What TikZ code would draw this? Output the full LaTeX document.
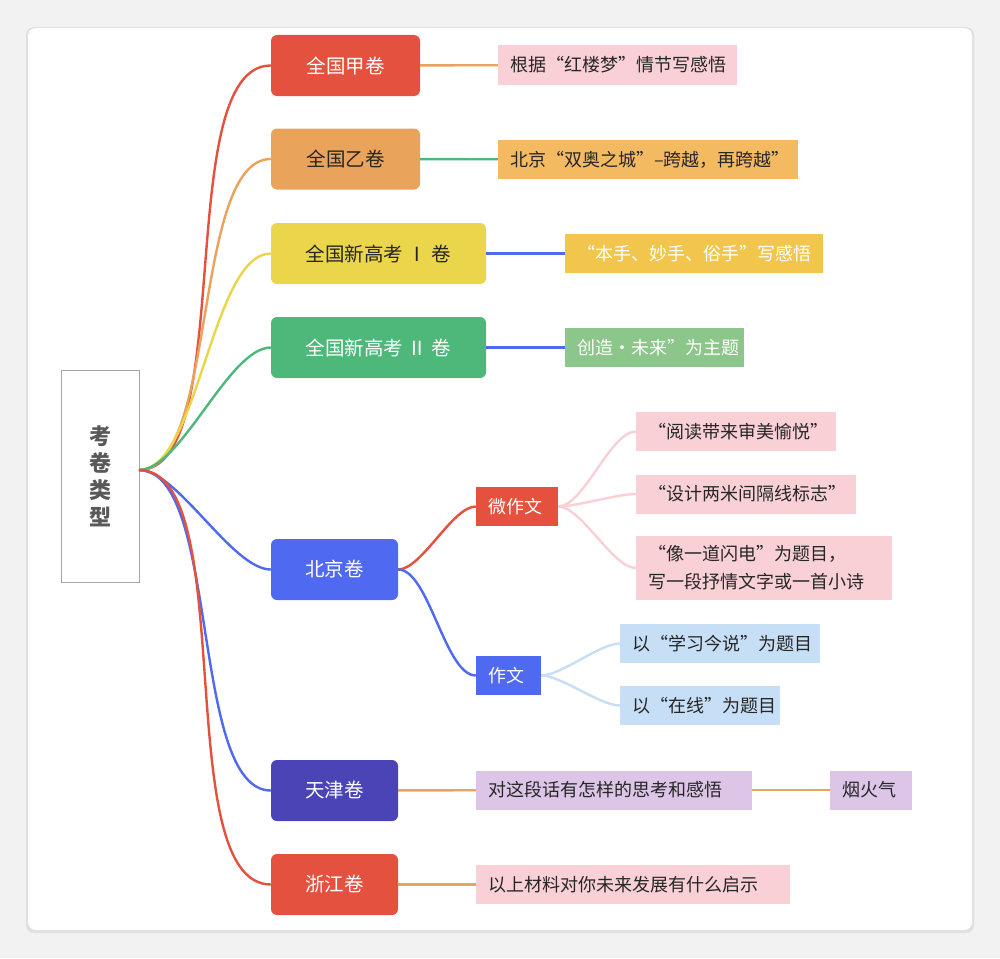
\documentclass[tikz,border=0pt]{standalone}
\usepackage{fontspec}
\setmainfont{Noto Sans CJK SC}
\usetikzlibrary{calc}
\definecolor{cred}{HTML}{E5513F}
\definecolor{corg}{HTML}{E9A35B}
\definecolor{cyel}{HTML}{EBD54A}
\definecolor{cgrn}{HTML}{4DB87A}
\definecolor{cblu}{HTML}{4F6AF0}
\definecolor{cind}{HTML}{4A44B6}
\definecolor{lpink}{HTML}{F8D0D5}
\definecolor{lorg}{HTML}{F4BA62}
\definecolor{lyel}{HTML}{F2C64C}
\definecolor{lgrn}{HTML}{8DC68A}
\definecolor{lblu}{HTML}{C6DFF6}
\definecolor{llav}{HTML}{DCC5E7}
\definecolor{lineo}{HTML}{E9A35B}
\tikzset{
 l1/.style={rounded corners=6pt, inner sep=0pt, minimum height=61pt, font=\fontsize{19.5}{22}\selectfont, text=white},
 leaf/.style={inner xsep=12pt, inner ysep=0pt, minimum width=#1pt, text width=#1pt-24pt, minimum height=39pt, font=\fontsize{18}{28}\selectfont, text=black!85, align=left},
 con/.style={line width=2.4pt},
 ccurve/.style={con, out=0, in=180, looseness=0.6}
}
\begin{document}
\begin{tikzpicture}[x=1pt,y=-1pt]
\useasboundingbox (0,0) rectangle (1000,958);
\fill[black!5] (0,0) rectangle (1000,958);
\fill[black!12, rounded corners=8pt] (26,27) rectangle (974,933);
\fill[white, rounded corners=8pt] (28,28) rectangle (972,930);
% root
\node[draw=black!35, fill=white, minimum width=78pt, minimum height=212pt, inner sep=0pt, align=center, font=\fontsize{22}{27}\selectfont\bfseries, text=black!65] (root) at (100,476) {考\\卷\\类\\型};
\coordinate (r) at (139,470);
% level 1
\node[l1, fill=cred, minimum width=149pt] (a) at (345.5,65.5) {全国甲卷};
\node[l1, fill=corg, minimum width=149pt, text=black!85] (b) at (345.5,159) {全国乙卷};
\node[l1, fill=cyel, minimum width=215pt, text=black!85] (c) at (378.5,253.5) {全国新高考 Ⅰ 卷};
\node[l1, fill=cgrn, minimum width=215pt] (d) at (378.5,347.5) {全国新高考 Ⅱ 卷};
\node[l1, fill=cblu, minimum width=127pt] (e) at (334.5,569.5) {北京卷};
\node[l1, fill=cind, minimum width=127pt] (f) at (334.5,790.5) {天津卷};
\node[l1, fill=cred, minimum width=127pt] (g) at (334.5,884.5) {浙江卷};
% curves from root
\draw[ccurve, cred] (r) to (a.west);
\draw[ccurve, corg] (r) to (b.west);
\draw[ccurve, cyel] (r) to (c.west);
\draw[ccurve, cgrn] (r) to (d.west);
\draw[ccurve, cblu] (r) to (e.west);
\draw[ccurve, cblu] (r) to (f.west);
\draw[ccurve, cred] (r) to (g.west);
% leaves
\node[leaf=239, fill=lpink] (a1) at (617.5,65) {根据“红楼梦”情节写感悟};
\node[leaf=300, fill=lorg] (b1) at (648,159.5) {\mbox{北京“双奥之城”–跨越，再跨越”}};
\node[leaf=258, fill=lyel, text=white] (c1) at (694,253.5) {“本手、妙手、俗手”写感悟};
\node[leaf=179, fill=lgrn, text=white] (d1) at (654.5,347.5) {创造·未来”为主题};
\draw[con, lineo] (a) -- (a1);
\draw[con, cgrn] (b) -- (b1);
\draw[con, cblu] (c) -- (c1);
\draw[con, cblu] (d) -- (d1);
% beijing
\node[leaf=82, fill=cred, text=white] (e1) at (517,506.5) {微作文};
\node[leaf=65, fill=cblu, text=white] (e2) at (508.5,675.5) {作文};
\draw[ccurve, cred] (e.east) to (e1.west);
\draw[ccurve, cblu] (e.east) to (e2.west);
\node[leaf=200, fill=lpink] (e11) at (736,431.5) {“阅读带来审美愉悦”};
\node[leaf=220, fill=lpink] (e12) at (746,494) {“设计两米间隔线标志”};
\node[leaf=256, fill=lpink, minimum height=64pt] (e13) at (764,568) {“像一道闪电”为题目，\\写一段抒情文字或一首小诗};
\draw[ccurve, lpink] (e1.east) to (e11.west);
\draw[ccurve, lpink] (e1.east) to (e12.west);
\draw[ccurve, lpink] (e1.east) to (e13.west);
\node[leaf=200, fill=lblu] (e21) at (720,643.5) {以“学习今说”为题目};
\node[leaf=160, fill=lblu] (e22) at (700,705.5) {以“在线”为题目};
\draw[ccurve, lblu] (e2.east) to (e21.west);
\draw[ccurve, lblu] (e2.east) to (e22.west);
% tianjin, zhejiang
\node[leaf=276, fill=llav] (f1) at (614,790) {对这段话有怎样的思考和感悟};
\node[leaf=82, fill=llav] (f2) at (871,790) {烟火气};
\node[leaf=314, fill=lpink] (g1) at (633,884.5) {以上材料对你未来发展有什么启示};
\draw[con, lineo] (f) -- (f1);
\draw[con, lineo] (f1) -- (f2);
\draw[con, lineo] (g) -- (g1);
\end{tikzpicture}
\end{document}
